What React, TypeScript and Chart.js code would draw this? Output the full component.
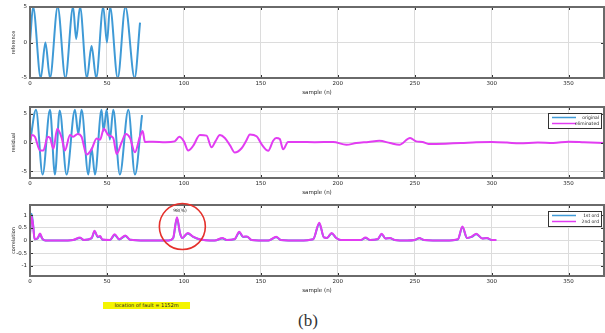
import React, { useEffect, useRef } from "react";
import { Chart, registerables } from "chart.js";
Chart.register(...registerables);

// ---------- data ----------
const xTicks = [0, 50, 100, 150, 200, 250, 300, 350];
const yTicksSignal = [-5, 0, 5];
const yTicksCorr = [-1, -0.5, 0, 0.5, 1];

// panel 1: reference
const refS = [0, 2, 7, 10, 13, 18, 23, 28, 30, 32.5, 37, 40, 43, 47.6, 50, 52, 57, 62, 68, 71.5];
const refV = [0, 5, -5, 0, -5, 5, -5, 5, 0.5, 5, -5, -0.5, -5, 5, 0, 5, -5, 5, -5, 2.8];

// panel 2: original (blue) and eliminated (magenta)
const origS = [0, 3.9, 8.2, 13, 16.2, 19.3, 23.8, 29.2, 31.4, 33.5, 37.9, 40, 42.2, 46.5, 47.8, 49.8, 51.9, 54.1, 58.4, 63.9, 68.2, 72.8];
const origV = [0, 5.7, -5.6, 5.7, -5.6, 5.6, -5.6, 5.7, 1.5, 5.7, -5.6, -1, -5.6, 5.7, 2, 5.7, 0.5, 5.7, -5.6, 5.7, -5.6, 4.8];
const elimS = [0, 1.1, 3.2, 6.5, 8.7, 11.5, 13, 15.2, 17.7, 20.6, 22.7, 26, 28.1, 31, 33.5, 36.8, 40, 43.3, 45.5, 48, 50.9, 54.1, 56.3, 59.5, 62.3, 65, 68.2, 71.4, 73.2, 74.7, 80, 88, 94, 97, 100, 102.8, 106, 110.4, 114.7, 118, 120.5, 123.4, 126.6, 130, 133.1, 137.5, 140.5, 142.9, 147.2, 151, 154.8, 158, 160, 162.3, 164.5, 167.7, 175, 185, 197, 205.6, 212, 220, 227, 234, 240, 247, 251, 255, 259, 270, 280, 290, 300, 310, 318, 330, 340, 350, 360, 373];
const elimV = [0, 1.3, 1.0, -1.4, -1.4, 1.0, 0.8, -1.1, 2.4, 0.8, -1.4, 1.3, 1.0, 1.5, 1.0, -2.1, -1.2, 0.7, 0.5, 2.4, 1.3, 0.8, -2.0, 0, 1.5, 0.8, -1.7, 1.0, 2.0, 0.1, 0.15, 0.05, 0.2, 1.0, 0.2, -1.4, -0.6, 1.3, 1.2, -0.85, 0.2, 1.3, 0.8, -0.5, -1.75, -1.0, 0.3, 1.4, 1.1, -0.5, -1.45, 0.3, 0.8, 0.6, -1.2, 0.1, 0.1, 0.05, 0.1, -0.4, -0.1, 0.1, 0.3, -0.1, -0.4, 0.8, 0.2, 0.1, -0.25, -0.2, -0.1, 0.05, 0.1, 0, -0.15, 0, -0.1, 0.15, 0.05, -0.1];

// panel 3: correlation, 1st order (blue) and 2nd order (magenta)
const corrS = [0, 1, 2, 3, 5, 6.5, 8, 10, 20, 28, 32.5, 35, 40, 42, 44, 45.5, 47, 52, 55, 58, 62, 65, 75, 90, 93, 95.5, 97.5, 99, 102.5, 106, 110, 120, 125, 128, 133, 136, 138.5, 141, 144, 155, 160, 163, 175, 184, 188, 191, 193, 196, 199, 202, 215, 218, 221, 226, 228.5, 231, 234, 237, 245, 250, 253, 256, 270, 278, 281, 284, 287, 290, 294, 297, 300, 303];
const corr1V = [0.3, 1.05, 0.65, 0.05, 0.08, 0.24, 0.06, 0, 0, 0.02, 0.1, 0.02, 0.08, 0.36, 0.13, 0.16, 0.03, 0.02, 0.22, 0.04, 0.18, 0.03, 0, 0, 0.08, 0.88, 0.28, 0.1, 0.28, 0.14, 0.05, 0, 0.08, 0.02, 0.05, 0.32, 0.14, 0.15, 0.02, 0, 0.13, 0.02, 0, 0.05, 0.66, 0.12, 0.1, 0.28, 0.1, 0.02, 0.02, 0.1, 0.02, 0.05, 0.25, 0.08, 0.09, 0.02, 0, 0.02, 0.09, 0.02, 0, 0.04, 0.52, 0.1, 0.14, 0.25, 0.08, 0.09, 0.02, 0.02];
const corr2V = [0.2, 0.95, 0.6, 0.05, 0.1, 0.28, 0.08, 0, 0, 0.02, 0.12, 0.02, 0.1, 0.38, 0.15, 0.18, 0.04, 0.02, 0.25, 0.05, 0.2, 0.03, 0, 0, 0.1, 0.92, 0.3, 0.1, 0.3, 0.15, 0.05, 0, 0.1, 0.02, 0.06, 0.35, 0.15, 0.16, 0.02, 0, 0.15, 0.02, 0, 0.05, 0.7, 0.12, 0.1, 0.3, 0.1, 0.02, 0.02, 0.12, 0.02, 0.06, 0.27, 0.08, 0.1, 0.02, 0, 0.02, 0.1, 0.02, 0, 0.05, 0.55, 0.1, 0.15, 0.27, 0.08, 0.1, 0.02, 0.02];

const peakSample = 95.5;
const peakValue = 0.92;
const peakText = "98(%)";
const circleCenter = { x: 99, y: 0.55 };
const faultText = "location of fault = 1152m";

const BLUE = "#3f9ad6";
const MAGENTA = "#e23cf2";
const FONT = "DejaVu Sans";

function pts(xs: number[], ys: number[]) {
  return xs.map((x, i) => ({ x, y: ys[i] }));
}

const boxPlugin = {
  id: "matlabBox",
  afterDatasetsDraw(chart: any) {
    const { ctx, chartArea: a, scales } = chart;
    ctx.save();
    ctx.strokeStyle = "#333";
    ctx.lineWidth = 1;
    const tl = 3;
    scales.x.ticks.forEach((t: any) => {
      const px = Math.round(scales.x.getPixelForValue(t.value)) + 0.5;
      ctx.beginPath();
      ctx.moveTo(px, a.bottom);
      ctx.lineTo(px, a.bottom - tl);
      ctx.moveTo(px, a.top);
      ctx.lineTo(px, a.top + tl);
      ctx.stroke();
    });
    scales.y.ticks.forEach((t: any) => {
      const py = Math.round(scales.y.getPixelForValue(t.value)) + 0.5;
      ctx.beginPath();
      ctx.moveTo(a.left, py);
      ctx.lineTo(a.left + tl, py);
      ctx.moveTo(a.right, py);
      ctx.lineTo(a.right - tl, py);
      ctx.stroke();
    });
    ctx.strokeStyle = "#6a6a6a";
    ctx.lineWidth = 2;
    ctx.strokeRect(a.left, a.top, a.right - a.left, a.bottom - a.top);
    ctx.restore();
  },
};

function legendPlugin(entries: { label: string; color: string }[]) {
  return {
    id: "boxLegend",
    afterDraw(chart: any) {
      const { ctx, chartArea: a } = chart;
      const w = 53, h = 15;
      const x0 = a.right - w - 3;
      const y0 = a.top + 6;
      ctx.save();
      ctx.fillStyle = "#fff";
      ctx.fillRect(x0, y0, w, h);
      ctx.strokeStyle = "#333";
      ctx.lineWidth = 1;
      ctx.strokeRect(x0 + 0.5, y0 + 0.5, w, h);
      entries.forEach((e, i) => {
        const y = y0 + 4.5 + i * 6;
        ctx.strokeStyle = e.color;
        ctx.lineWidth = 1.5;
        ctx.beginPath();
        ctx.moveTo(x0 + 4, y);
        ctx.lineTo(x0 + 28, y);
        ctx.stroke();
        ctx.fillStyle = "#222";
        ctx.font = `4.5px "${FONT}"`;
        ctx.textBaseline = "middle";
        ctx.textAlign = "right";
        ctx.fillText(e.label, x0 + w - 2, y);
      });
      ctx.restore();
    },
  };
}

const annotationPlugin = {
  id: "peakCircle",
  afterDraw(chart: any) {
    const { ctx, scales } = chart;
    const cx = scales.x.getPixelForValue(circleCenter.x);
    const cy = scales.y.getPixelForValue(circleCenter.y);
    ctx.save();
    ctx.strokeStyle = "#e5302b";
    ctx.lineWidth = 1.6;
    ctx.beginPath();
    ctx.arc(cx, cy, 23, 0, Math.PI * 2);
    ctx.stroke();
    ctx.fillStyle = "#222";
    ctx.font = `4.5px "${FONT}"`;
    ctx.textAlign = "center";
    ctx.textBaseline = "bottom";
    ctx.fillText(peakText, scales.x.getPixelForValue(peakSample) + 3, scales.y.getPixelForValue(peakValue) - 4);
    ctx.restore();
  },
};

type Series = { label: string; xs: number[]; ys: number[]; color: string; order: number };

function buildConfig(series: Series[], yMin: number, yMax: number, yTicks: number[], yTitle: string, extra: any[]) {
  return {
    type: "line",
    data: {
      datasets: series.map((s) => ({
        label: s.label,
        data: pts(s.xs, s.ys),
        borderColor: s.color,
        borderWidth: 2,
        pointRadius: 0,
        cubicInterpolationMode: "monotone",
        fill: false,
        order: s.order,
      })),
    },
    options: {
      animation: false,
      responsive: false,
      devicePixelRatio: 1,
      layout: { padding: { left: 0, right: 1, top: 7, bottom: 0 } },
      plugins: { legend: { display: false }, tooltip: { enabled: false } },
      scales: {
        x: {
          type: "linear",
          min: 0,
          max: 373,
          afterBuildTicks: (s: any) => {
            s.ticks = xTicks.map((v) => ({ value: v }));
          },
          afterFit: (s: any) => {
            s.height = 22;
          },
          grid: { color: "#dcdcdc", drawTicks: false },
          border: { display: false },
          ticks: {
            font: { size: 5.5, family: FONT },
            color: "#222",
            padding: 2,
            maxRotation: 0,
            autoSkip: false,
            callback: (v: any) => String(v),
          },
          title: {
            display: true,
            text: "sample (n)",
            font: { size: 5.5, family: FONT },
            color: "#222",
            padding: { top: 0, bottom: 4 },
          },
        },
        y: {
          type: "linear",
          min: yMin,
          max: yMax,
          afterBuildTicks: (s: any) => {
            s.ticks = yTicks.map((v) => ({ value: v }));
          },
          afterFit: (s: any) => {
            s.width = 30;
          },
          grid: { color: "#dcdcdc", drawTicks: false },
          border: { display: false },
          ticks: {
            font: { size: 5.5, family: FONT },
            color: "#222",
            padding: 3,
            callback: (v: any) => String(v),
          },
          title: {
            display: true,
            text: yTitle,
            font: { size: 5, family: FONT },
            color: "#222",
            padding: { top: 11, bottom: 0 },
          },
        },
      },
    },
    plugins: [boxPlugin, ...extra],
  };
}

function Panel({ top, config }: { top: number; config: any }) {
  const ref = useRef<HTMLCanvasElement | null>(null);
  useEffect(() => {
    if (!ref.current) return;
    const chart = new Chart(ref.current, config);
    return () => chart.destroy();
  }, [config]);
  return <canvas ref={ref} width={605} height={100} style={{ position: "absolute", left: 0, top, width: 605, height: 100 }} />;
}

const cfg1 = buildConfig(
  [{ label: "reference", xs: refS, ys: refV, color: BLUE, order: 0 }],
  -5, 5, yTicksSignal, "reference", []
);
const cfg2 = buildConfig(
  [
    { label: "original", xs: origS, ys: origV, color: BLUE, order: 1 },
    { label: "eliminated", xs: elimS, ys: elimV, color: MAGENTA, order: 0 },
  ],
  -6.2, 6.2, yTicksSignal, "residual",
  [legendPlugin([{ label: "original", color: BLUE }, { label: "eliminated", color: MAGENTA }])]
);
const cfg3 = buildConfig(
  [
    { label: "1st ord", xs: corrS, ys: corr1V, color: BLUE, order: 1 },
    { label: "2nd ord", xs: corrS, ys: corr2V, color: MAGENTA, order: 0 },
  ],
  -1.4, 1.4, yTicksCorr, "correlation",
  [legendPlugin([{ label: "1st ord", color: BLUE }, { label: "2nd ord", color: MAGENTA }]), annotationPlugin]
);

export default function App() {
  return (
    <div style={{ position: "fixed", left: 0, top: 0, width: 605, height: 333, overflow: "hidden", background: "#fff" }}>
      <Panel top={0} config={cfg1} />
      <Panel top={100} config={cfg2} />
      <Panel top={198} config={cfg3} />
      <div
        style={{
          position: "absolute",
          left: 103,
          top: 302,
          width: 87,
          height: 7,
          background: "#f4f400",
          fontFamily: FONT,
          fontSize: 5,
          lineHeight: "7px",
          textAlign: "center",
          color: "#222",
          whiteSpace: "nowrap",
        }}
      >
        {faultText}
      </div>
      <div
        style={{
          position: "absolute",
          left: 280,
          top: 311,
          width: 56,
          textAlign: "center",
          fontFamily: "Liberation Serif",
          fontSize: 17,
          lineHeight: "20px",
          color: "#333",
        }}
      >
        (b)
      </div>
    </div>
  );
}
